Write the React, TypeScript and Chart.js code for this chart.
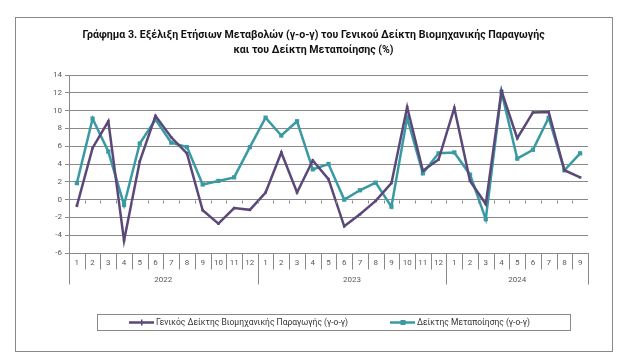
import React, { useEffect, useRef } from "react";
import { Chart, registerables } from "chart.js";

Chart.register(...registerables);

const monthLabels = [
  "1", "2", "3", "4", "5", "6", "7", "8", "9", "10", "11", "12",
  "1", "2", "3", "4", "5", "6", "7", "8", "9", "10", "11", "12",
  "1", "2", "3", "4", "5", "6", "7", "8", "9",
];
const yearLabels = ["2022", "2023", "2024"];
const monthsPerYear = [12, 12, 9];

const generalIndex = [
  -0.7, 5.8, 8.8, -4.6, 4.3, 9.4, 7.0, 5.2, -1.2, -2.7, -0.95, -1.15,
  0.8, 5.3, 0.8, 4.4, 2.3, -3.0, -1.65, -0.15, 1.85, 10.4, 3.25, 4.5,
  10.3, 2.1, -0.5, 12.2, 6.9, 9.8, 9.85, 3.3, 2.5,
];
const manufacturingIndex = [
  1.85, 9.1, 5.4, -0.6, 6.3, 9.0, 6.4, 5.9, 1.7, 2.1, 2.5, 5.9,
  9.2, 7.2, 8.8, 3.4, 4.0, 0.0, 1.05, 1.9, -0.8, 9.2, 2.95, 5.2,
  5.3, 2.8, -2.2, 12.1, 4.6, 5.6, 9.2, 3.3, 5.2,
];

const seriesNames = [
  "Γενικός Δείκτης Βιομηχανικής Παραγωγής (γ-ο-γ)",
  "Δείκτης Μεταποίησης (γ-ο-γ)",
];
const titleLines = [
  "Γράφημα 3. Εξέλιξη Ετήσιων Μεταβολών (γ-ο-γ) του Γενικού Δείκτη Βιομηχανικής Παραγωγής",
  "και του Δείκτη Μεταποίησης (%)",
];
const yMin = -6;
const yMax = 14;
const yStep = 2;

const PURPLE = "#5B4879";
const TEAL = "#3A9AA3";
const AXIS = "#898989";
const TEXT = "#595959";
const FONT = "Roboto, 'Noto Sans', sans-serif";

const framePlugin = {
  id: "frame",
  beforeDraw(chart: any) {
    const ctx = chart.ctx;
    ctx.save();
    ctx.fillStyle = "#ffffff";
    ctx.fillRect(0, 0, chart.width, chart.height);
    ctx.strokeStyle = AXIS;
    ctx.lineWidth = 1;
    ctx.strokeRect(15.5, 17.5, 597, 334);
    ctx.restore();
  },
};

const categoryAxisPlugin = {
  id: "categoryAxis",
  afterDraw(chart: any) {
    const ctx = chart.ctx;
    const xs = chart.scales.x;
    const ys = chart.scales.y;
    const bottom = Math.round(chart.chartArea.bottom) + 0.5;
    const n = monthLabels.length;
    const half = (xs.getPixelForValue(1) - xs.getPixelForValue(0)) / 2;
    const boundary = (i: number) =>
      i < n ? xs.getPixelForValue(i) - half : xs.getPixelForValue(n - 1) + half;
    const yearStarts = new Set<number>();
    let acc = 0;
    yearStarts.add(0);
    monthsPerYear.forEach((c) => {
      acc += c;
      yearStarts.add(acc);
    });
    ctx.save();
    ctx.strokeStyle = AXIS;
    ctx.lineWidth = 1;
    const y0 = Math.round(ys.getPixelForValue(0)) + 0.5;
    for (let i = 0; i <= n; i++) {
      const bx = Math.round(boundary(i)) + 0.5;
      ctx.beginPath();
      ctx.moveTo(bx, bottom);
      ctx.lineTo(bx, bottom + (yearStarts.has(i) ? 31 : 16));
      ctx.stroke();
      if (i > 0 && i < n) {
        ctx.beginPath();
        ctx.moveTo(bx, y0);
        ctx.lineTo(bx, y0 + 3);
        ctx.stroke();
      }
    }
    ctx.fillStyle = TEXT;
    ctx.font = `8px ${FONT}`;
    ctx.textAlign = "center";
    ctx.textBaseline = "middle";
    for (let i = 0; i < n; i++) {
      ctx.fillText(monthLabels[i], xs.getPixelForValue(i), bottom + 9);
    }
    let start = 0;
    yearLabels.forEach((yl, k) => {
      const end = start + monthsPerYear[k];
      const cx = (boundary(start) + boundary(end)) / 2;
      ctx.fillText(yl, cx, bottom + 26);
      start = end;
    });
    ctx.restore();
  },
};

const legendPlugin = {
  id: "customLegend",
  afterDraw(chart: any) {
    const ctx = chart.ctx;
    ctx.save();
    ctx.strokeStyle = AXIS;
    ctx.lineWidth = 1;
    ctx.strokeRect(97.5, 314.5, 473, 16);
    const cy = 322.5;
    const items = [
      { x: 129, color: PURPLE, square: false, label: seriesNames[0] },
      { x: 390, color: TEAL, square: true, label: seriesNames[1] },
    ];
    ctx.font = `8.5px ${FONT}`;
    ctx.textBaseline = "middle";
    ctx.textAlign = "left";
    items.forEach((it) => {
      ctx.strokeStyle = it.color;
      ctx.lineWidth = 2.5;
      ctx.beginPath();
      ctx.moveTo(it.x, cy);
      ctx.lineTo(it.x + 25, cy);
      ctx.stroke();
      ctx.fillStyle = it.color;
      if (it.square) {
        ctx.fillRect(it.x + 10.5, cy - 2.5, 5, 5);
      } else {
        ctx.fillRect(it.x + 12, cy - 3, 1.5, 6);
      }
      ctx.fillStyle = "#333333";
      ctx.fillText(it.label, it.x + 27, cy);
    });
    ctx.restore();
  },
};

export default function App() {
  const canvasRef = useRef<HTMLCanvasElement | null>(null);

  useEffect(() => {
    document.body.style.margin = "0";
    const canvas = canvasRef.current;
    if (!canvas) return;
    const chart = new Chart(canvas, {
      type: "line",
      data: {
        labels: monthLabels.map((m, i) => `${i}-${m}`),
        datasets: [
          {
            label: seriesNames[0],
            data: generalIndex,
            borderColor: PURPLE,
            backgroundColor: PURPLE,
            borderWidth: 2.5,
            pointStyle: "rect",
            pointRadius: 1.8,
            pointBorderWidth: 0,
            tension: 0,
          },
          {
            label: seriesNames[1],
            data: manufacturingIndex,
            borderColor: TEAL,
            backgroundColor: TEAL,
            borderWidth: 2.5,
            pointStyle: "rect",
            pointRadius: 3,
            pointBorderWidth: 0,
            tension: 0,
          },
        ],
      },
      options: {
        responsive: false,
        animation: false,
        devicePixelRatio: 1,
        layout: { padding: 0 },
        plugins: {
          legend: { display: false },
          tooltip: { enabled: false },
          title: {
            display: true,
            text: titleLines,
            color: "#111111",
            font: { family: FONT, size: 10.6, weight: "bold", lineHeight: 15 / 10.6 },
            padding: { top: 27.5, bottom: 17.5 },
          },
        },
        scales: {
          x: {
            type: "category",
            offset: true,
            grid: { display: false },
            border: { display: true, color: AXIS },
            ticks: { display: false },
            afterFit(scale: any) {
              scale.height = 107;
            },
          },
          y: {
            min: yMin,
            max: yMax,
            ticks: {
              stepSize: yStep,
              color: TEXT,
              font: { family: FONT, size: 8 },
              padding: 3,
            },
            grid: { color: AXIS, tickLength: 4, tickColor: AXIS },
            border: { display: true, color: AXIS },
            afterFit(scale: any) {
              scale.width = 69;
            },
          },
          yRight: {
            position: "right",
            display: true,
            grid: { display: false },
            border: { display: false },
            ticks: { display: false },
            afterFit(scale: any) {
              scale.width = 39;
            },
          },
        },
      },
      plugins: [framePlugin, categoryAxisPlugin, legendPlugin],
    });
    return () => chart.destroy();
  }, []);

  return (
    <div style={{ width: 627, height: 360 }}>
      <canvas ref={canvasRef} width={627} height={360} style={{ display: "block" }} />
    </div>
  );
}
